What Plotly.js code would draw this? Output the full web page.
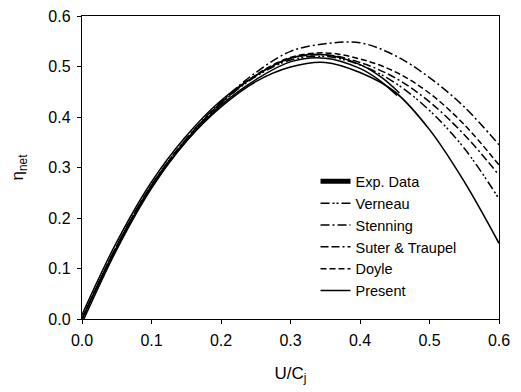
<!DOCTYPE html>
<html>
<head>
<meta charset="utf-8">
<script src="https://cdn.plot.ly/plotly-3.0.1.min.js"></script>
<style>html,body{margin:0;padding:0;background:#fff;}#chart{width:521px;height:392px;}</style>
</head>
<body>
<div id="chart"></div>
<script>
// U/Cj values
var xModel = [0, 0.05, 0.1, 0.15, 0.2, 0.25, 0.3, 0.35, 0.4, 0.45, 0.5, 0.55, 0.6];
var xExp = [0, 0.05, 0.1, 0.15, 0.2, 0.25, 0.3, 0.35, 0.4, 0.43, 0.455];

var expData   = [0, 0.145, 0.265, 0.357, 0.428, 0.478, 0.513, 0.520, 0.500, 0.475, 0.445];
var verneau   = [0, 0.144, 0.264, 0.355, 0.427, 0.480, 0.513, 0.520, 0.503, 0.468, 0.413, 0.338, 0.238];
var stenning  = [0, 0.145, 0.265, 0.357, 0.430, 0.488, 0.530, 0.545, 0.547, 0.522, 0.478, 0.420, 0.345];
var suter     = [0, 0.144, 0.264, 0.356, 0.428, 0.482, 0.516, 0.523, 0.508, 0.478, 0.430, 0.365, 0.285];
var doyle     = [0, 0.144, 0.264, 0.356, 0.428, 0.483, 0.518, 0.527, 0.515, 0.490, 0.447, 0.385, 0.305];
var present   = [0, 0.142, 0.262, 0.352, 0.420, 0.470, 0.499, 0.508, 0.488, 0.450, 0.375, 0.272, 0.150];

var seriesNames = ["Exp. Data", "Verneau", "Stenning", "Suter & Traupel", "Doyle", "Present"];
var xTicks = [0, 0.1, 0.2, 0.3, 0.4, 0.5, 0.6];
var yTicks = [0, 0.1, 0.2, 0.3, 0.4, 0.5, 0.6];

var traces = [
  {x: xExp, y: expData, name: seriesNames[0], mode: 'lines', line: {color: '#000', width: 5, shape: 'spline'}},
  {x: xExp, y: expData, name: seriesNames[0], mode: 'lines', showlegend: false, hoverinfo: 'skip', line: {color: '#fff', width: 2, shape: 'spline'}},
  {x: xModel, y: verneau, name: seriesNames[1], mode: 'lines', line: {color: '#000', width: 1.5, dash: '9px,3px,2px,2px,2px,3px', shape: 'spline'}},
  {x: xModel, y: stenning, name: seriesNames[2], mode: 'lines', line: {color: '#000', width: 1.5, dash: '9px,3px,2px,3px', shape: 'spline'}},
  {x: xModel, y: suter, name: seriesNames[3], mode: 'lines', line: {color: '#000', width: 1.5, dash: '8px,3px,8px,3px,2px,3px', shape: 'spline'}},
  {x: xModel, y: doyle, name: seriesNames[4], mode: 'lines', line: {color: '#000', width: 1.5, dash: '6px,3px', shape: 'spline'}},
  {x: xModel, y: present, name: seriesNames[5], mode: 'lines', line: {color: '#000', width: 1.6, shape: 'spline'}}
];

var axisCommon = {
  showgrid: false, zeroline: false, showline: true, linecolor: '#000', linewidth: 1.2,
  mirror: true, ticks: 'outside', ticklen: 4, tickcolor: '#000', tickwidth: 1,
  tickformat: '.1f', range: [0, 0.6], autorange: false, ticklabelstandoff: 3,
  tickfont: {family: 'Liberation Sans, Arial, sans-serif', size: 16, color: '#000'}
};

var layout = {
  width: 521, height: 392,
  margin: {l: 82, r: 22, t: 16, b: 73},
  paper_bgcolor: '#fff', plot_bgcolor: '#fff',
  font: {family: 'Liberation Sans, Arial, sans-serif', color: '#000'},
  xaxis: Object.assign({}, axisCommon, {tickvals: xTicks,
    title: {text: 'U/C<sub>j</sub>', font: {size: 17, color: '#000'}, standoff: 18}}),
  yaxis: Object.assign({}, axisCommon, {tickvals: yTicks,
    title: {text: 'η<sub>net</sub>', font: {size: 17, color: '#000'}, standoff: 20}}),
  showlegend: true,
  legend: {x: 0.56, y: 0.507, xanchor: 'left', yanchor: 'top', bgcolor: 'rgba(0,0,0,0)',
    font: {size: 14.5, color: '#000'}, tracegroupgap: 0},
  hovermode: false
};

Plotly.newPlot('chart', traces, layout, {displayModeBar: false, staticPlot: true});
</script>
</body>
</html>
